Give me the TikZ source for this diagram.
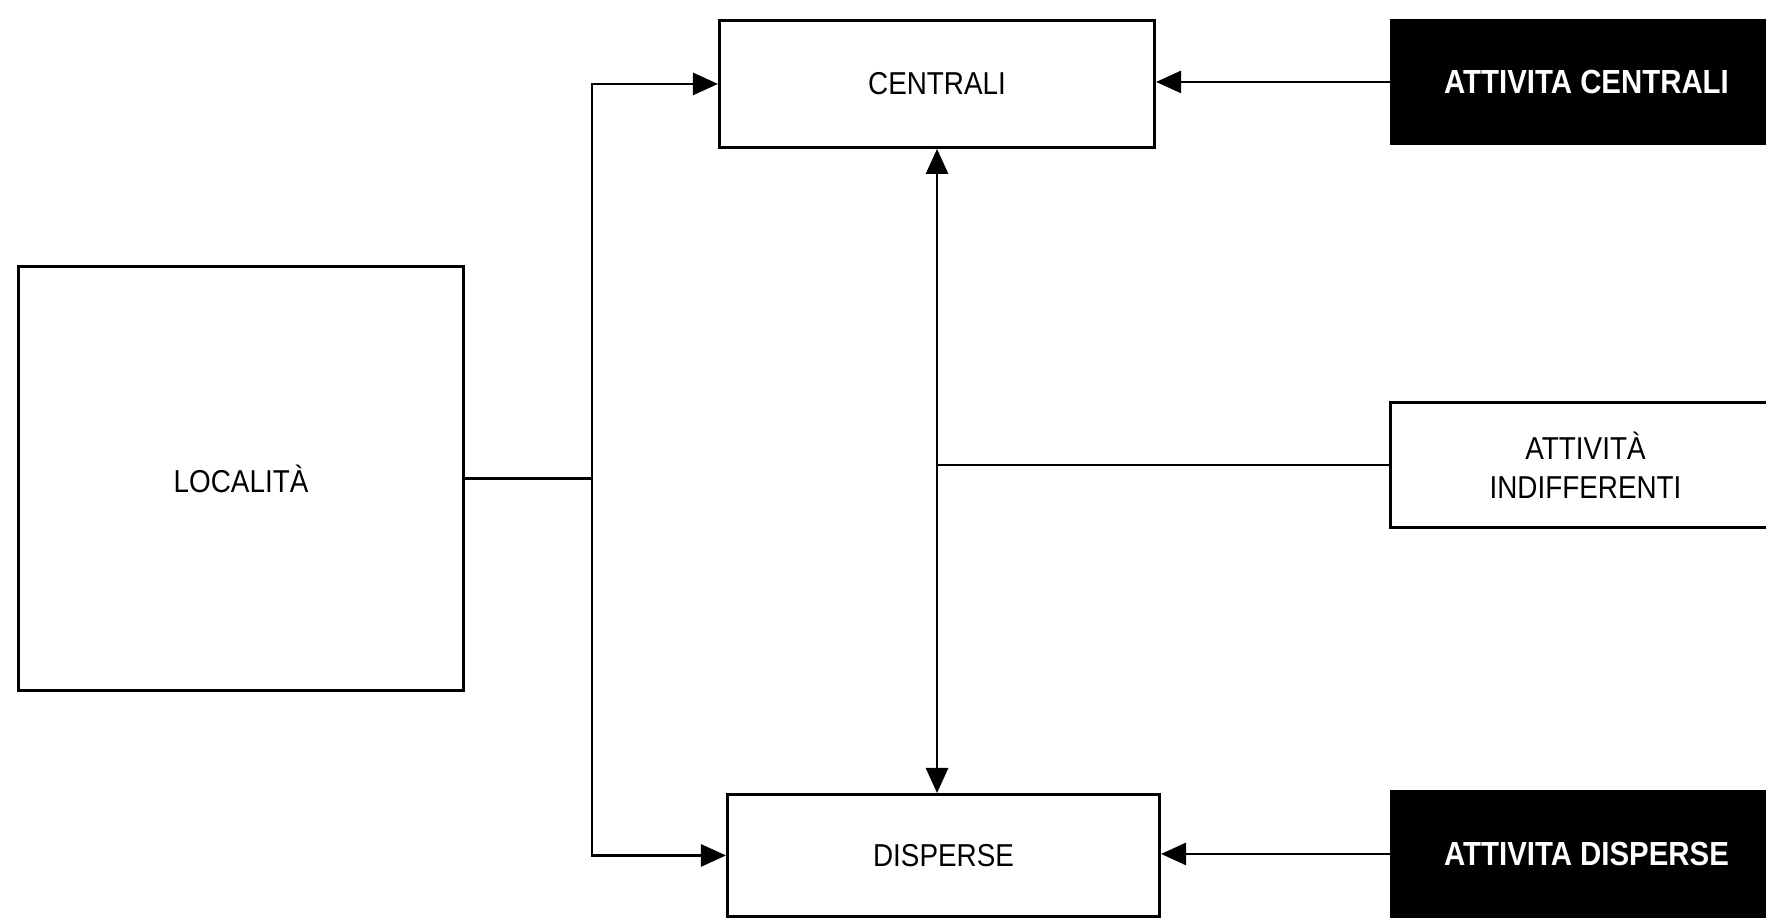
\documentclass[tikz,border=0pt]{standalone}
\usepackage{fontspec}
\setmainfont{Liberation Sans}[FakeStretch=0.88]
\usepackage{tikz}
\usetikzlibrary{arrows.meta}
\usetikzlibrary{positioning}

\tikzset{
  blockbox/.style={rectangle, draw=black, thick, fill=white, anchor=north west, align=center, inner sep=0pt, font=\fontsize{9}{11}\selectfont},
  darkbox/.style={blockbox, fill=black, text=white, font=\fontsize{9.5}{11}\selectfont\bfseries},
  link/.style={black, thick},
  arr/.style={link, -{Triangle[length=2.5mm, width=2.2mm]}}
}

\begin{document}
\begin{tikzpicture}[x=0.01cm, y=-0.01cm]

\useasboundingbox (0,0) rectangle (1766,918);

%\draw[step=100, gray, very thin, dotted] (0,0) grid (1766,918);

\node at (17,265) [blockbox, minimum width=4.45cm, minimum height=4.24cm] (localita) {LOCALITÀ};
\node at (718,19) [blockbox, minimum width=4.35cm, minimum height=1.27cm] (centrali) {CENTRALI};
\node at (726,793) [blockbox, minimum width=4.32cm, minimum height=1.22cm] (disperse) {DISPERSE};
\node at (1389,401) [blockbox, minimum width=3.9cm, minimum height=1.25cm] (indiff) {ATTIVITÀ\\INDIFFERENTI};
\node at (1390,19) [darkbox, minimum width=3.9cm, minimum height=1.23cm] (attcentrali) {ATTIVITA CENTRALI};
\node at (1390,790) [darkbox, minimum width=3.9cm, minimum height=1.25cm] (attdisperse) {ATTIVITA DISPERSE};

% branch from the locality
\draw[link] (localita.east) -- ++(127,0) coordinate (split);
\draw[arr] (split) |- (centrali.west);
\draw[arr] (split) |- (disperse.west);

% link between the two kinds
\draw[link, {Triangle[length=2.5mm, width=2.2mm]}-{Triangle[length=2.5mm, width=2.2mm]}] (centrali.south) -- (centrali.south |- disperse.north);
\draw[link] (indiff.west) -- (indiff.west -| centrali.south);

% activities on the right
\draw[arr] (attcentrali.west) -- (attcentrali.west -| centrali.east);
\draw[arr] (attdisperse.west) -- (attdisperse.west -| disperse.east);

\end{tikzpicture}
\end{document}
